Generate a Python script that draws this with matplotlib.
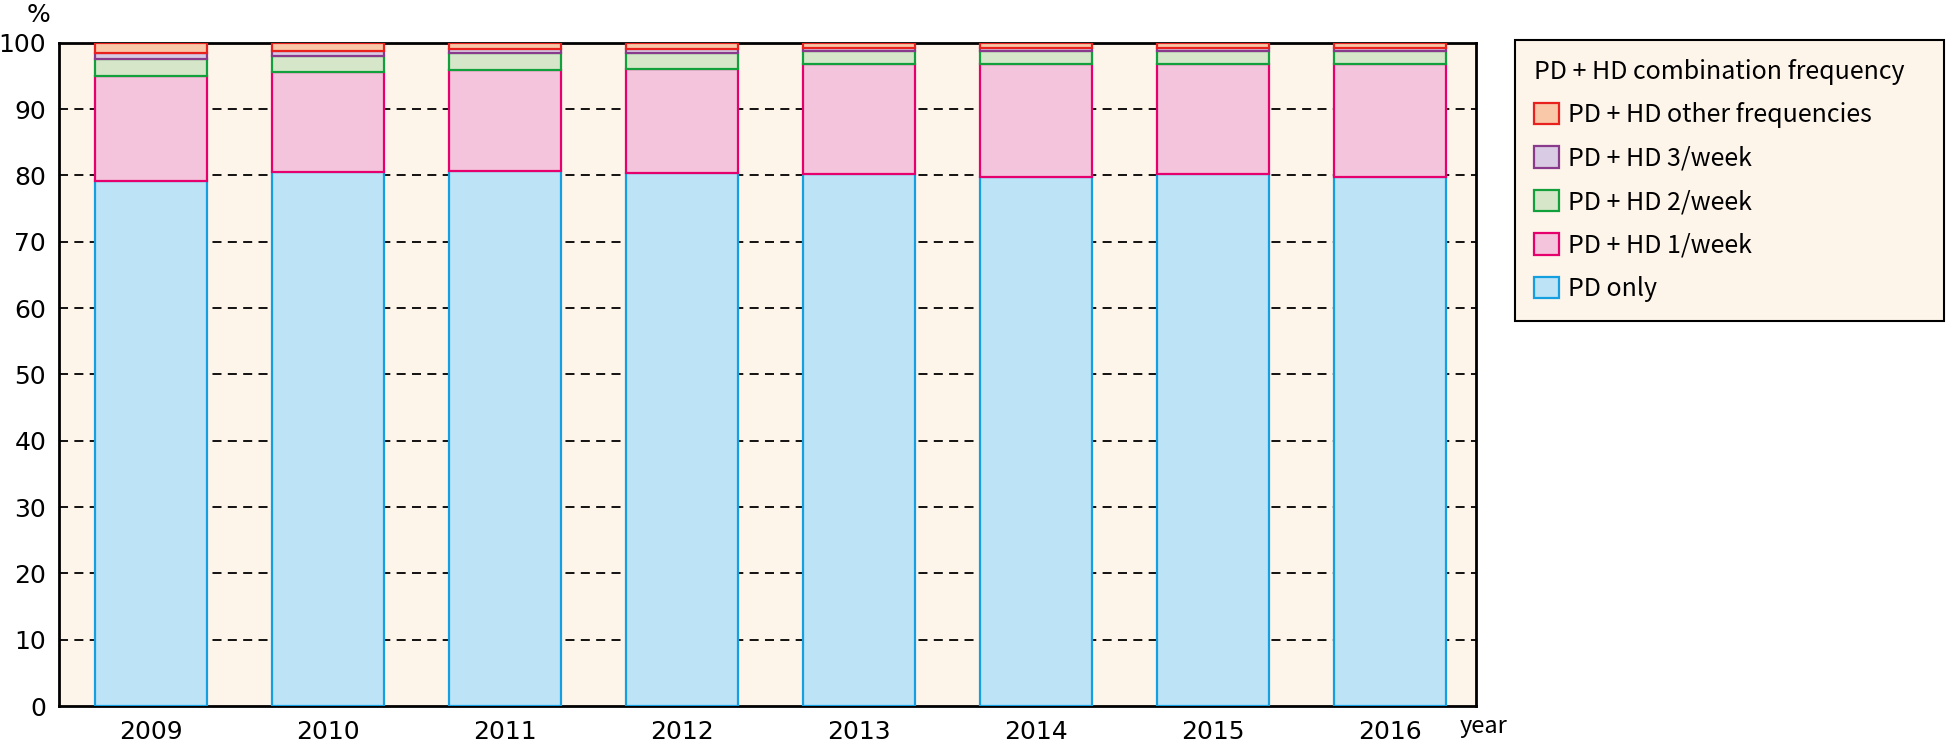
import matplotlib
matplotlib.use("Agg")
import matplotlib.pyplot as plt
import numpy as np

years = ["2009", "2010", "2011", "2012", "2013", "2014", "2015", "2016"]
pd_only = [79.2, 80.5, 80.6, 80.3, 80.2, 79.7, 80.2, 79.7]
hd_1week = [15.8, 15.1, 15.3, 15.7, 16.6, 17.1, 16.6, 17.1]
hd_2week = [2.5, 2.4, 2.5, 2.5, 1.9, 1.9, 1.9, 1.9]
hd_3week = [0.9, 0.7, 0.6, 0.6, 0.5, 0.5, 0.5, 0.5]
hd_other = [1.6, 1.3, 1.0, 0.9, 0.8, 0.8, 0.8, 0.8]

series_labels = ["PD only", "PD + HD 1/week", "PD + HD 2/week",
                 "PD + HD 3/week", "PD + HD other frequencies"]
yticks = [0, 10, 20, 30, 40, 50, 60, 70, 80, 90, 100]

plt.rcParams['font.family'] = ['Noto Sans CJK JP', 'DejaVu Sans']

W, H = 1946, 743
fig = plt.figure(figsize=(W / 100, H / 100), dpi=100)
ax = fig.add_axes([58.7 / W, 1 - 706 / H, (1476 - 58.7) / W, (706 - 42.7) / H])

bg = "#fdf4ea"
ax.set_facecolor(bg)

fills = ["#bde3f7", "#f4c3dc", "#d6e7c9", "#d9cbe3", "#f9c8a8"]
edges = ["#14a0e0", "#e6006e", "#12a03c", "#8a3a8c", "#e8211e"]
data = [pd_only, hd_1week, hd_2week, hd_3week, hd_other]

x = np.arange(len(years))
bottom = np.zeros(len(years))
handles = []
for vals, lab, fc, ec in zip(data, series_labels, fills, edges):
    b = ax.bar(x, vals, width=0.63, bottom=bottom, color=fc, edgecolor=ec,
               linewidth=1.6, label=lab, zorder=3)
    handles.append(b)
    bottom += np.array(vals)

ax.set_xlim(-0.52, 7.485)
ax.set_ylim(0, 100)
ax.set_yticks(yticks)
ax.set_yticklabels([str(v) for v in yticks], family="DejaVu Sans")
ax.set_xticks(x)
ax.set_xticklabels(years, family="DejaVu Sans")
ax.tick_params(axis='both', length=0, labelsize=18)
ax.tick_params(axis='y', pad=9)
ax.tick_params(axis='x', pad=10)

for v in yticks[1:-1]:
    ax.axhline(v, color="black", linewidth=1.3, linestyle=(0, (5, 3.5)), zorder=1)

for s in ax.spines.values():
    s.set_linewidth(2)
    s.set_color("black")

fig.text(27 / W, 1 - 15 / H, "%", fontsize=18, ha="left", va="center",
         family="DejaVu Sans")
fig.text(1460 / W, 1 - 727 / H, "year", fontsize=17, ha="left", va="center")

leg = fig.legend(handles=handles[::-1], labels=series_labels[::-1],
                 loc="upper left",
                 bbox_to_anchor=(1515 / W, 0.0, (1944 - 1515) / W, 1 - 40 / H),
                 mode="expand", borderaxespad=0, fontsize=18,
                 title="PD + HD combination frequency", title_fontsize=18,
                 alignment="left", frameon=True, fancybox=False,
                 handlelength=1.0, handleheight=0.95, handletextpad=0.35,
                 labelspacing=0.7, borderpad=0.75)
leg.get_frame().set_facecolor(bg)
leg.get_frame().set_edgecolor("black")
leg.get_frame().set_linewidth(1.5)
leg.get_frame().set_alpha(1)

fig.savefig("out.png", dpi=100, facecolor="white")
